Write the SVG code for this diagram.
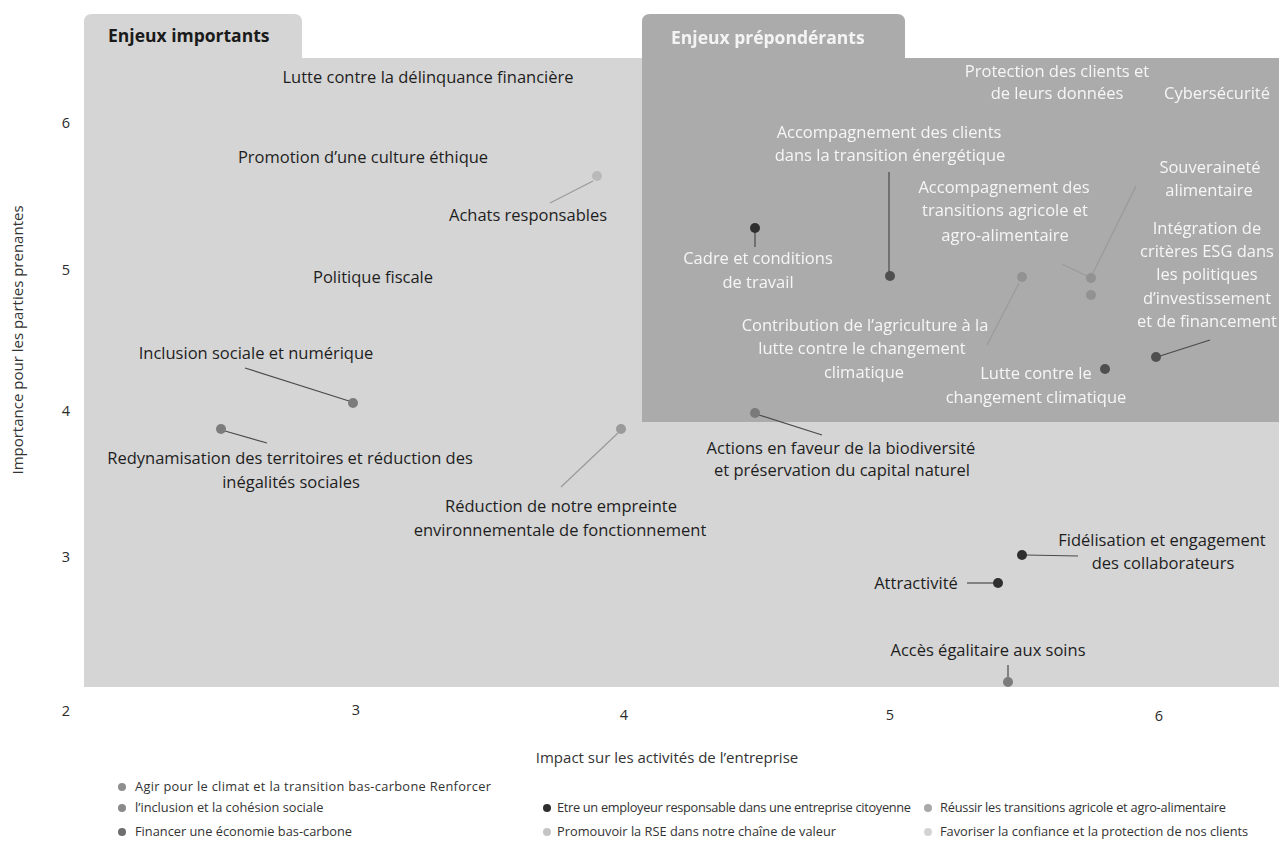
<svg xmlns="http://www.w3.org/2000/svg" width="1279" height="850" viewBox="0 0 1279 850">
  <defs>
    <style>
      .lbl { font-family: "Open Sans", "Liberation Sans", sans-serif; font-size: 16.5px; fill: #1e1e1e; text-anchor: middle; }
      .wlbl { font-family: "Open Sans", "Liberation Sans", sans-serif; font-size: 16.5px; fill: #f6f6f6; text-anchor: middle; filter: url(#soft); }
      .tab { font-family: "Open Sans", "Liberation Sans", sans-serif; font-size: 17.5px; font-weight: 700; }
      .tick { font-family: "Open Sans", "Liberation Sans", sans-serif; font-size: 14.5px; fill: #2a2a2a; text-anchor: middle; }
      .axis { font-family: "Open Sans", "Liberation Sans", sans-serif; font-size: 15px; fill: #333; text-anchor: middle; }
      .leg { font-family: "Open Sans", "Liberation Sans", sans-serif; font-size: 12.8px; fill: #333; }
      .lead { stroke: #4a4a4a; stroke-width: 1.2; fill: none; }
      .lead-soft { stroke: #9a9a9a; stroke-width: 1.2; fill: none; }
      .d-emp { fill: #2f2f2f; }
      .d-fin { fill: #4f4f4f; }
      .d-inc { fill: #7c7c7c; }
      .d-cli { fill: #7a7a7a; }
      .d-agr { fill: #929292; }
      .d-rse { fill: #b9b9b9; }
      .d-red { fill: #9a9a9a; }
    </style>
    <filter id="soft" x="-5%" y="-20%" width="110%" height="140%">
      <feGaussianBlur stdDeviation="0.45"/>
    </filter>
  </defs>

  <rect width="1279" height="850" fill="#ffffff"/>

  <!-- zones -->
  <g id="zones">
    <path id="zone-importants" d="M84,22 Q84,14 92,14 H294 Q302,14 302,22 V58 H1279 V687 H84 Z" fill="#d5d5d5"/>
    <path id="zone-preponderants" d="M642,22 Q642,14 650,14 H897 Q905,14 905,22 V58 H1279 V422 H642 Z" fill="#ababab"/>
    <text class="tab" x="108" y="42" fill="#1a1a1a">Enjeux importants</text>
    <text class="tab" x="671" y="44" fill="#f4f4f4" filter="url(#soft)">Enjeux prépondérants</text>
  </g>

  <!-- axes -->
  <g id="axes">
    <text class="tick" x="66" y="128">6</text>
    <text class="tick" x="66" y="275">5</text>
    <text class="tick" x="66" y="416">4</text>
    <text class="tick" x="66" y="562">3</text>
    <text class="tick" x="66" y="716">2</text>
    <text class="tick" x="356" y="715">3</text>
    <text class="tick" x="624" y="720">4</text>
    <text class="tick" x="890" y="720">5</text>
    <text class="tick" x="1159" y="721">6</text>
    <text class="axis" x="667" y="763">Impact sur les activités de l’entreprise</text>
    <text class="axis" transform="translate(23,340) rotate(-90)">Importance pour les parties prenantes</text>
  </g>

  <!-- leader lines -->
  <g id="connectors">
    <line class="lead-soft" x1="593" y1="181" x2="550" y2="203"/>
    <line class="lead" x1="245" y1="368" x2="349" y2="401"/>
    <line class="lead" x1="225" y1="431" x2="267" y2="443"/>
    <line class="lead-soft" x1="618" y1="433" x2="561" y2="487"/>
    <line class="lead" x1="759" y1="415" x2="822" y2="435"/>
    <line class="lead" x1="1026" y1="555" x2="1078" y2="556"/>
    <line class="lead" x1="967" y1="583" x2="994" y2="583"/>
    <line class="lead" x1="1008" y1="665" x2="1008" y2="678"/>
    <line class="lead" x1="755" y1="232" x2="755" y2="247"/>
    <line class="lead" x1="889" y1="172" x2="889" y2="272"/>
    <line class="lead-soft" x1="1019" y1="283" x2="987" y2="345"/>
    <line class="lead-soft" x1="1136" y1="186" x2="1093" y2="273"/>
    <line class="lead-soft" x1="1062" y1="264" x2="1087" y2="276"/>
    <line class="lead" x1="1210" y1="340" x2="1160" y2="356"/>
  </g>

  <!-- issues: important zone -->
  <g id="n-delinquance">
    <text class="lbl" x="428" y="83">Lutte contre la délinquance financière</text>
  </g>
  <g id="n-ethique">
    <text class="lbl" x="363" y="163">Promotion d’une culture éthique</text>
  </g>
  <g id="n-achats">
    <circle class="d-rse" cx="597" cy="176" r="5"/>
    <text class="lbl" x="528" y="221">Achats responsables</text>
  </g>
  <g id="n-fiscale">
    <text class="lbl" x="373" y="283">Politique fiscale</text>
  </g>
  <g id="n-inclusion">
    <circle class="d-inc" cx="353" cy="403" r="5"/>
    <text class="lbl" x="256" y="359">Inclusion sociale et numérique</text>
  </g>
  <g id="n-territoires">
    <circle class="d-inc" cx="221" cy="429" r="5"/>
    <text class="lbl" x="290" y="464">Redynamisation des territoires et réduction des</text>
    <text class="lbl" x="291" y="488">inégalités sociales</text>
  </g>
  <g id="n-empreinte">
    <circle class="d-red" cx="621" cy="429" r="5"/>
    <text class="lbl" x="561" y="512">Réduction de notre empreinte</text>
    <text class="lbl" x="560" y="536">environnementale de fonctionnement</text>
  </g>
  <g id="n-biodiversite">
    <circle class="d-cli" cx="755" cy="413" r="5"/>
    <text class="lbl" x="841" y="454">Actions en faveur de la biodiversité</text>
    <text class="lbl" x="842" y="476">et préservation du capital naturel</text>
  </g>
  <g id="n-fidelisation">
    <circle class="d-emp" cx="1022" cy="555" r="5"/>
    <text class="lbl" x="1162" y="546">Fidélisation et engagement</text>
    <text class="lbl" x="1163" y="569">des collaborateurs</text>
  </g>
  <g id="n-attractivite">
    <circle class="d-emp" cx="998" cy="583" r="5"/>
    <text class="lbl" x="916" y="589">Attractivité</text>
  </g>
  <g id="n-soins">
    <circle class="d-inc" cx="1008" cy="682" r="5"/>
    <text class="lbl" x="988" y="656">Accès égalitaire aux soins</text>
  </g>

  <!-- issues: predominant zone -->
  <g id="n-protection">
    <text class="wlbl" x="1057" y="77">Protection des clients et</text>
    <text class="wlbl" x="1057" y="99">de leurs données</text>
  </g>
  <g id="n-cyber">
    <text class="wlbl" x="1164" y="99" style="text-anchor:start">Cybersécurité</text>
  </g>
  <g id="n-transition-energetique">
    <circle class="d-fin" cx="890" cy="276" r="5"/>
    <text class="wlbl" x="889" y="138">Accompagnement des clients</text>
    <text class="wlbl" x="890" y="161">dans la transition énergétique</text>
  </g>
  <g id="n-souverainete">
    <circle class="d-agr" cx="1091" cy="278" r="5"/>
    <text class="wlbl" x="1210" y="173">Souveraineté</text>
    <text class="wlbl" x="1209" y="196">alimentaire</text>
  </g>
  <g id="n-transitions-agricoles">
    <circle class="d-agr" cx="1091" cy="295" r="5"/>
    <text class="wlbl" x="1004" y="193">Accompagnement des</text>
    <text class="wlbl" x="1005" y="216">transitions agricole et</text>
    <text class="wlbl" x="1005" y="241">agro-alimentaire</text>
  </g>
  <g id="n-esg">
    <circle class="d-fin" cx="1156" cy="357" r="5"/>
    <text class="wlbl" x="1207" y="234">Intégration de</text>
    <text class="wlbl" x="1207" y="257">critères ESG dans</text>
    <text class="wlbl" x="1207" y="280">les politiques</text>
    <text class="wlbl" x="1207" y="304">d’investissement</text>
    <text class="wlbl" x="1207" y="327">et de financement</text>
  </g>
  <g id="n-cadre">
    <circle class="d-emp" cx="755" cy="228" r="5"/>
    <text class="wlbl" x="758" y="264">Cadre et conditions</text>
    <text class="wlbl" x="758" y="288">de travail</text>
  </g>
  <g id="n-agriculture-climat">
    <circle class="d-agr" cx="1022" cy="277" r="5"/>
    <text class="wlbl" x="865" y="331">Contribution de l’agriculture à la</text>
    <text class="wlbl" x="862" y="354">lutte contre le changement</text>
    <text class="wlbl" x="864" y="378">climatique</text>
  </g>
  <g id="n-climat">
    <circle class="d-fin" cx="1105" cy="369" r="5"/>
    <text class="wlbl" x="1036" y="379">Lutte contre le</text>
    <text class="wlbl" x="1036" y="403">changement climatique</text>
  </g>

  <!-- legend -->
  <g id="legend">
    <circle cx="122" cy="787" r="4" fill="#8f8f8f"/>
    <text class="leg" x="135" y="791" textLength="356">Agir pour le climat et la transition bas-carbone Renforcer</text>
    <circle cx="122" cy="808" r="4" fill="#8a8a8a"/>
    <text class="leg" x="135" y="812">l’inclusion et la cohésion sociale</text>
    <circle cx="122" cy="832" r="4" fill="#6e6e6e"/>
    <text class="leg" x="135" y="836">Financer une économie bas-carbone</text>
    <circle cx="547" cy="808" r="4" fill="#2e2e2e"/>
    <text class="leg" x="557" y="812" textLength="354">Etre un employeur responsable dans une entreprise citoyenne</text>
    <circle cx="547" cy="832" r="4" fill="#c4c4c4"/>
    <text class="leg" x="557" y="836">Promouvoir la RSE dans notre chaîne de valeur</text>
    <circle cx="928" cy="808" r="4" fill="#a8a8a8"/>
    <text class="leg" x="940" y="812" textLength="286">Réussir les transitions agricole et agro-alimentaire</text>
    <circle cx="928" cy="832" r="4" fill="#d4d4d4"/>
    <text class="leg" x="940" y="836">Favoriser la confiance et la protection de nos clients</text>
  </g>
</svg>
